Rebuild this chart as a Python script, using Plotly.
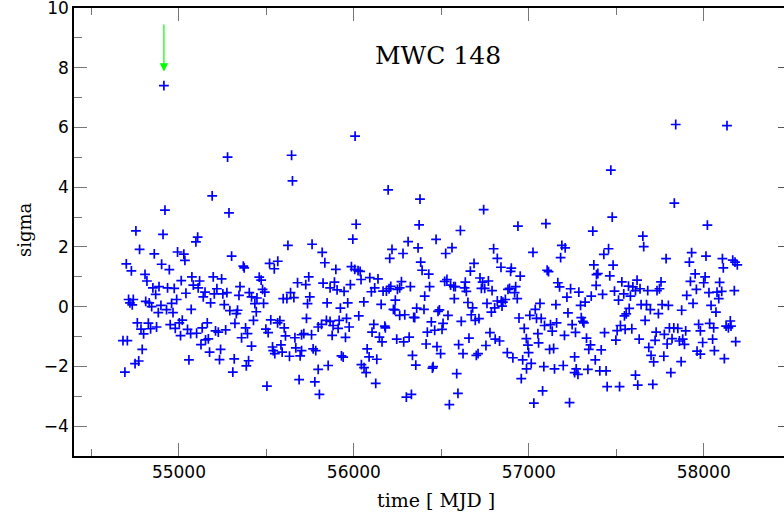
import plotly.graph_objects as go

# values (MJD, sigma)
mjd_a = [54920, 54754, 54909, 54775, 54859, 54992, 55028, 55034, 54699, 54901, 54728, 54945, 54806, 54817, 55013, 55074,
         54851, 54886, 54935, 54973, 55082, 54867, 55040, 54712, 54739, 54720, 54733, 54810, 54830, 54844, 54897, 54987,
         54958, 54929, 54882, 54966, 55070, 54762, 54825, 55019, 55002, 54783, 54798, 54838, 54872, 54950, 54979, 55049,
         55009, 55067, 54680, 54705, 54790, 55057, 54770, 54749, 54691, 54914]
sig_a = [3.23, 2.54, 2.42, 1.92, 1.77, 1.83, 1.76, 1.55, 1.43, 1.42, 1.20, 1.24, 1.08, 0.86, 0.87, 1.00,
         0.63, 0.67, 0.63, 0.61, 0.72, 0.41, 0.45, 0.24, 0.24, 0.13, 0.06, 0.18, 0.13, 0.00, 0.04, 0.24,
         0.11, -0.10, -0.20, -0.20, -0.09, -0.54, -0.55, -0.45, -0.54, -0.75, -0.91, -0.74, -0.68, -0.60, -0.73, -0.76,
         -0.97, -0.90, -1.14, -1.14, -1.43, -1.78, -1.82, -1.91, -2.19, 7.40]

mjd_b = [55278, 55644, 55649, 55190, 55286, 55107, 55097, 55623, 55301, 55368, 55373, 55518, 55565, 55545, 55196, 55244,
         55118, 55110, 55459, 55470, 55678, 55217, 55149, 55139, 55202, 55251, 55274, 55349, 55343, 55402, 55415, 55446,
         55478, 55491, 55638, 55657, 55596, 55617, 55181, 55259, 55434, 55484, 55291, 55335, 55328, 55442, 55162, 55133,
         55101, 55320, 55426, 55381, 55525, 55564, 55577, 55602, 55497, 55510, 55209, 55225, 55267, 55392, 55358, 55609,
         55663, 55701, 55714, 55168, 55152, 55126, 55175, 55238, 55415, 55535, 55539, 55548, 55583, 55590, 55668, 55701,
         55693, 55632, 55232, 55316, 55398, 55385, 55308, 55503, 55687]
sig_b = [5.01, 5.07, 4.21, 3.71, 3.14, 2.33, 2.17, 2.05, 1.69, 1.36, 1.30, 1.45, 1.52, 1.27, 1.00, 0.93,
         0.86, 0.63, 0.99, 0.89, 0.80, 0.60, 0.49, 0.33, 0.43, 0.43, 0.47, 0.67, 0.38, 0.47, 0.33, 0.29,
         0.58, 0.49, 0.47, 0.30, 0.27, 0.27, 0.13, 0.07, 0.10, 0.11, -0.13, -0.12, -0.23, -0.17, -0.54, -0.71,
         -0.89, -0.56, -0.46, -0.71, -0.44, -0.54, -0.47, -0.71, -0.75, -0.87, -0.81, -0.85, -0.78, -0.90, -1.04, -0.98,
         -1.04, -0.94, -0.90, -1.08, -1.11, -1.27, -1.52, -1.43, -1.32, -1.35, -1.47, -1.57, -1.28, -1.52, -1.38, -1.47,
         -1.65, -1.66, -1.77, -1.75, -1.81, -1.98, -2.19, -2.66, -2.44]

mjd_c = [56007, 56196, 56013, 55994, 55761, 55819, 55834, 56310, 56218, 56205, 56281, 55742, 55897, 55986, 56005, 56024,
         56036, 55725, 55824, 55889, 55864, 55904, 55944, 55980, 56041, 56091, 56138, 56119, 56100, 56167, 56186, 56211,
         56201, 56249, 56262, 56272, 56323, 55748, 55735, 55847, 55923, 55965, 56057, 56156, 56237, 56226, 56234, 56262,
         56291, 56342, 55729, 56028, 55958, 55916, 55843, 55864, 55815, 55796, 55881, 55910, 55973, 56114, 56177, 56180,
         55758, 55876, 55952, 56104, 56146, 56161, 56245, 56285, 56316, 55767, 55782, 56076, 55929, 55939, 56087, 56131,
         56335, 56043, 56058, 56070, 55853, 55796, 55777, 56125, 55803, 56300, 56329]
sig_c = [5.71, 3.91, 2.76, 2.26, 2.09, 1.82, 1.47, 2.18, 1.92, 1.62, 1.78, 1.00, 1.25, 1.34, 1.25, 1.21,
         1.18, 0.74, 0.79, 0.82, 0.63, 0.56, 0.51, 0.74, 0.91, 0.97, 0.93, 0.63, 0.50, 0.52, 0.52, 0.68,
         0.60, 0.58, 0.63, 0.84, 0.67, 0.33, 0.10, 0.13, -0.05, 0.13, 0.16, 0.08, 0.22, -0.09, -0.11, -0.29,
         -0.27, -0.36, -0.39, -0.31, -0.39, -0.46, -0.46, -0.49, -0.59, -0.68, -0.63, -0.73, -0.68, -0.59, -0.65, -0.71,
         -0.94, -0.96, -1.03, -0.85, -1.02, -1.18, -1.09, -1.18, -1.02, -1.41, -1.47, -1.41, -1.65, -1.69, -1.68, -1.76,
         -1.63, -1.94, -2.04, -2.21, -1.97, -2.10, -2.52, -2.57, -2.94, -3.03, -2.94]

mjd_d = [56378, 56742, 56373, 56609, 56938, 56470, 56367, 56561, 56525, 56799, 56820, 56841, 56900, 56896, 56382, 56390,
         56428, 56687, 56666, 56951, 56519, 56532, 56553, 56571, 56580, 56637, 56633, 56643, 56721, 56736, 56769, 56729,
         56748, 56790, 56433, 56881, 56890, 56925, 56919, 56934, 56405, 56574, 56652, 56761, 56820, 56843, 56852, 56866,
         56847, 56805, 56786, 56359, 56401, 56489, 56481, 56679, 56538, 56671, 56715, 56694, 56348, 56614, 56944, 56443,
         56510, 56420, 56462, 56504, 56778, 56974, 56658, 56808, 56833, 56599, 56413, 56475, 56496, 56624, 56755, 56700,
         56710, 56877, 56909, 56965, 56354, 56453, 56449, 56588, 56957, 56595, 56546]
sig_d = [3.60, 3.25, 2.74, 2.55, 2.70, 2.25, 1.97, 1.98, 1.78, 1.94, 1.62, 1.32, 1.29, 1.18, 1.49, 1.22,
         1.09, 1.45, 1.19, 1.02, 0.85, 0.91, 0.72, 0.67, 0.67, 0.82, 0.63, 0.51, 0.96, 0.82, 0.86, 0.61,
         0.61, 0.54, 0.67, 0.58, 0.61, 0.67, 0.47, 0.27, 0.35, 0.27, 0.14, 0.11, 0.19, 0.19, 0.15, 0.24,
         0.02, -0.04, -0.18, -0.05, -0.09, -0.11, -0.16, -0.04, -0.29, -0.27, -0.40, -0.46, -0.37, -0.49, -0.38, -0.51,
         -0.56, -0.85, -0.79, -0.76, -0.87, -0.73, -1.05, -1.09, -1.15, -1.27, -1.25, -1.34, -1.57, -1.57, -1.30, -1.63,
         -1.57, -1.54, -1.71, -1.78, -1.96, -2.01, -2.06, -2.24, -2.41, -2.90, -3.28]

mjd_e = [57469, 57477, 57366, 57098, 57024, 57189, 57208, 57182, 57456, 57429, 57372, 57482, 57105, 57113, 57395, 57387,
         57463, 57532, 57570, 57595, 57166, 57176, 57239, 57286, 57385, 57218, 57357, 57422, 57490, 57543, 57581, 57513,
         57064, 57155, 57322, 57296, 57037, 57006, 57044, 57071, 57224, 57574, 57557, 57547, 57300, 57309, 57315, 57090,
         57124, 57159, 57248, 57524, 57134, 57267, 57505, 57551, 57589, 57052, 57204, 57433, 56986, 57330, 57498, 56995,
         56999, 57056, 57119, 57142, 57353, 57343, 57414, 57262, 57380, 57014, 56987, 57086, 57147, 57197, 57271, 57262,
         57281, 57338, 57406, 57442, 57448, 57519, 57079, 57029, 57233]
sig_e = [4.57, 3.00, 2.53, 2.78, 1.82, 2.05, 1.97, 1.64, 1.94, 1.75, 1.40, 1.39, 1.22, 1.17, 1.11, 1.07,
         1.03, 0.83, 0.69, 0.66, 0.80, 0.66, 0.60, 0.49, 0.71, 0.32, 0.35, 0.41, 0.52, 0.43, 0.35, 0.22,
         0.11, 0.07, 0.15, 0.04, -0.09, -0.29, -0.39, -0.39, -0.21, -0.06, -0.24, -0.31, -0.37, -0.49, -0.54, -0.63,
         -0.60, -0.54, -0.60, -0.63, -0.82, -0.86, -0.80, -0.76, -0.74, -0.90, -0.96, -0.87, -1.07, -1.05, -1.12, -1.29,
         -1.54, -1.21, -1.43, -1.40, -1.28, -1.43, -1.45, -1.68, -1.78, -1.90, -2.08, -2.01, -2.08, -1.97, -2.08, -2.21,
         -2.27, -2.10, -2.15, -2.15, -2.68, -2.68, -2.82, -3.23, -3.21]

mjd_f = [57840, 58133, 57832, 58021, 57652, 57657, 57785, 57931, 57918, 58013, 58107, 58112, 58166, 58179, 58192, 57951,
         58008, 58000, 57924, 58091, 57619, 57756, 57610, 57636, 57680, 57733, 57747, 57958, 58030, 58076, 58103, 58175,
         57903, 58086, 57939, 58042, 57642, 57673, 57695, 57762, 57798, 57741, 57874, 58070, 57665, 57971, 58034, 58057,
         58152, 58128, 58141, 58156, 57804, 57829, 57852, 57897, 57981, 57728, 57775, 57631, 57722, 57819, 57861, 57880,
         57890, 58051, 57994, 58183, 57791, 57686, 57962, 57981, 58061, 57699, 57714, 57772, 57871, 58118, 57610, 57812,
         57623, 57709]
sig_f = [6.10, 6.06, 3.47, 2.73, 2.36, 2.01, 1.61, 1.81, 1.49, 1.69, 1.61, 1.30, 1.56, 1.49, 1.40, 1.10,
         1.00, 0.80, 0.85, 0.81, 0.89, 0.83, 0.54, 0.60, 0.54, 0.54, 0.60, 0.58, 0.47, 0.49, 0.51, 0.54,
         0.38, 0.27, 0.11, 0.04, 0.07, 0.07, -0.10, 0.07, 0.04, -0.23, -0.12, -0.18, -0.46, -0.59, -0.56, -0.71,
         -0.48, -0.65, -0.71, -0.65, -0.71, -0.71, -0.73, -0.81, -0.81, -0.85, -0.93, -1.09, -1.13, -1.07, -1.15, -1.09,
         -1.26, -1.09, -1.20, -1.17, -1.25, -1.36, -1.49, -1.59, -1.47, -1.63, -1.85, -1.66, -1.84, -1.74, -2.29, -2.21,
         -2.63, -2.60]

mjd = mjd_a + mjd_b + mjd_c + mjd_d + mjd_e + mjd_f
sigma = sig_a + sig_b + sig_c + sig_d + sig_e + sig_f

flare_mjd = 54914
flare_sigma = 7.4

x_ticks = [55000, 56000, 57000, 58000]
x_labels = ["55000", "56000", "57000", "58000"]
y_ticks = [-4, -2, 0, 2, 4, 6, 8, 10]
y_labels = ["\u22124", "\u22122", "0", "2", "4", "6", "8", "10"]

fig = go.Figure()
fig.add_trace(go.Scatter(
    x=mjd, y=sigma, mode="markers",
    marker=dict(symbol="cross-thin", size=7, color="#0000ff",
                line=dict(color="#0000ff", width=1.7)),
    showlegend=False, hoverinfo="x+y", cliponaxis=False))
# invisible trace to drive right-side axis
fig.add_trace(go.Scatter(x=[mjd[0]], y=[sigma[0]], yaxis="y2", mode="markers",
                         marker=dict(opacity=0), showlegend=False, hoverinfo="skip"))

fig.add_annotation(x=flare_mjd, y=flare_sigma + 0.47, ax=flare_mjd, ay=flare_sigma + 2.1,
                   xref="x", yref="y", axref="x", ayref="y", text="", showarrow=True,
                   arrowhead=2, arrowsize=1.4, arrowwidth=1.2, arrowcolor="#00ff00")

fig.add_annotation(x=0.512, y=0.894, xref="paper", yref="paper", text="MWC 148", showarrow=False,
                   xanchor="center", yanchor="middle",
                   font=dict(family="DejaVu Serif", size=25, color="black"))
fig.add_annotation(x=0.51, y=-0.098, xref="paper", yref="paper", text="time [ MJD ]", showarrow=False,
                   xanchor="center", yanchor="middle", font=dict(family="DejaVu Serif", size=19, color="black"))
fig.add_annotation(x=-0.07, y=0.505, xref="paper", yref="paper", text="sigma", showarrow=False,
                   textangle=-90, xanchor="center", yanchor="middle",
                   font=dict(family="DejaVu Serif", size=18, color="black"))

fig.update_layout(
    width=784, height=518,
    margin=dict(l=74, r=0, t=8, b=62, pad=0, autoexpand=False),
    paper_bgcolor="white", plot_bgcolor="white",
    xaxis=dict(range=[54400, 58459], tickmode="array", tickvals=x_ticks, ticktext=x_labels,
               ticks="inside", ticklen=13, tickwidth=1.3, tickcolor="#777777",
               minor=dict(dtick=500, tick0=54500, ticks="inside", ticklen=7, tickwidth=1.3, tickcolor="#777777"),
               showline=True, linecolor="black", linewidth=1.5, mirror="ticks",
               showgrid=False, zeroline=False, automargin=False, ticklabeloverflow="allow",
               tickfont=dict(family="DejaVu Sans", size=17, color="black")),
    yaxis=dict(range=[-5, 10], tickmode="array", tickvals=y_ticks, ticktext=y_labels,
               ticks="inside", ticklen=13, tickwidth=1.3, tickcolor="#777777",
               minor=dict(dtick=1, tick0=0, ticks="inside", ticklen=8, tickwidth=1.3, tickcolor="#777777"),
               showline=True, linecolor="black", linewidth=1.5,
               showgrid=False, zeroline=False, automargin=False, ticklabeloverflow="allow",
               tickfont=dict(family="DejaVu Sans", size=17, color="black")),
    yaxis2=dict(range=[-5, 10], overlaying="y", side="right", tickmode="array", tickvals=y_ticks,
                showticklabels=False, ticks="inside", ticklen=6, tickwidth=1.3, tickcolor="#555555",
                showline=False, showgrid=False, zeroline=False, automargin=False),
)

fig.write_html("out.html", config={"displayModeBar": False},
               post_script="document.body.style.margin='0px';")
